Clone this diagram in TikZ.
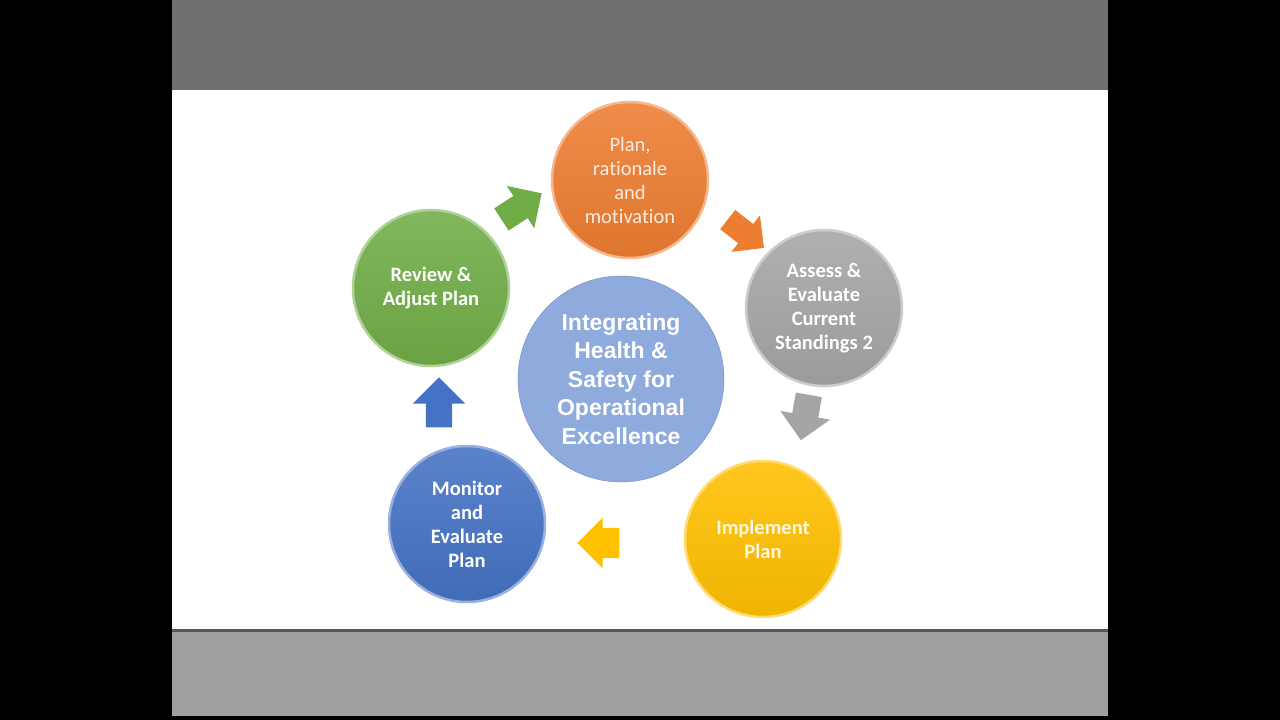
\documentclass[tikz,border=0pt]{standalone}
\usepackage{fontspec}
\setmainfont{Carlito}[Ligatures=NoCommon]
\newfontfamily\hubfont{Liberation Sans}
\usetikzlibrary{shapes.arrows}
\definecolor{cOrange}{HTML}{ED7D31}
\definecolor{cGray}{HTML}{A5A5A5}
\definecolor{cYellow}{HTML}{FFC000}
\definecolor{cBlue}{HTML}{4472C4}
\definecolor{cGreen}{HTML}{70AD47}
\definecolor{cHub}{HTML}{8FAADC}
\definecolor{topband}{HTML}{707070}
\definecolor{lowband}{HTML}{A0A0A0}
\tikzset{
  stage/.style={circle, minimum size=156pt, inner sep=0pt, align=center,
    font=\bfseries\fontsize{20.5}{24}\selectfont, text=white,
    top color=#1!88!white, bottom color=#1!94!black,
    draw=#1!55!white, line width=2.5pt},
  flow/.style={single arrow, fill=#1, draw=none, inner xsep=0pt, inner ysep=13pt,
    minimum height=48pt, single arrow head extend=12pt}
}
\begin{document}
\begin{tikzpicture}[x=1pt,y=1pt]
\useasboundingbox (0,0) rectangle (1280,720);
\fill[black] (0,0) rectangle (1280,720);
\fill[topband] (172,630) rectangle (1108,720);
\fill[white] (172,91) rectangle (1108,630);
\fill[lowband] (172,4) rectangle (1108,88);
\fill[lowband!55!black] (172,88) rectangle (1108,91);

\node[circle, minimum size=206pt, inner sep=0pt, fill=cHub, draw=cHub!80!black,
  text=white, align=center, font=\hubfont\bfseries\fontsize{23}{28.5}\selectfont]
  (hub) at (621,341) {Integrating\\Health \&\\Safety for\\Operational\\Excellence};

\node[stage=cOrange, font=\fontsize{20.5}{24}\selectfont, text=cOrange!15!white]
  (plan) at (630,540) {Plan,\\rationale\\and\\motivation};
\node[stage=cGray] (assess) at (824,412) {Assess \&\\Evaluate\\Current\\Standings 2};
\node[stage=cYellow, text=cYellow!12!white] (implement) at (763,181) {Implement\\Plan};
\node[stage=cBlue] (monitor) at (467,196) {Monitor\\and\\Evaluate\\Plan};
\node[stage=cGreen] (review) at (431,432) {Review \&\\Adjust Plan};

\node[flow=cGreen, rotate=33] (arrReview) at (516,510) {};
\node[flow=cOrange, rotate=-38, minimum height=46pt, inner ysep=12pt, single arrow head extend=11pt] (arrPlan) at (741,490) {};
\node[flow=cGray, rotate=-100, minimum height=46pt] (arrAssess) at (806,309) {};
\node[flow=cYellow, rotate=180, minimum height=42pt, inner ysep=15pt, single arrow head extend=10pt] (arrImplement) at (606,177) {};
\node[flow=cBlue, rotate=90, minimum height=50pt, single arrow head extend=13pt] (arrMonitor) at (439,311) {};
\end{tikzpicture}
\end{document}
